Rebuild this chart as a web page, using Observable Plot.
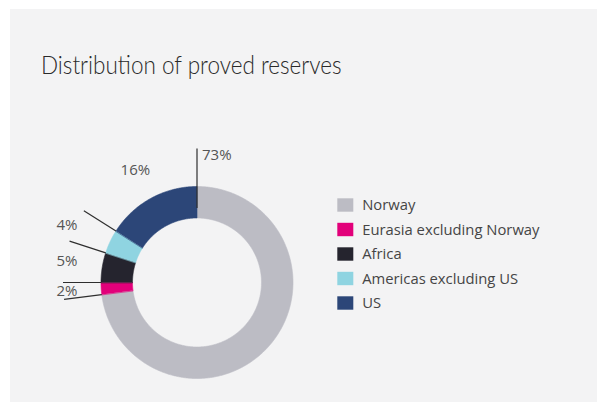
<!DOCTYPE html>
<html>
<head>
<meta charset="utf-8">
<script src="https://cdn.jsdelivr.net/npm/d3@7"></script>
<script src="https://cdn.jsdelivr.net/npm/@observablehq/plot@0.6"></script>
<style>
  html, body { margin: 0; padding: 0; background: #ffffff; }
  body { width: 597px; height: 412px; position: relative; overflow: hidden; font-family: Lato, "Open Sans", sans-serif; }
  #panel { position: absolute; left: 10px; top: 9px; width: 587px; height: 393px; background: #f3f3f4; }
  #title { position: absolute; left: 31px; top: 42px; margin: 0; font-size: 26px; line-height: 26px; font-weight: 300; color: #2a2a2a; white-space: nowrap; transform: scaleX(0.865); transform-origin: 0 0; }
  #chart { position: absolute; left: 0; top: 91px; }
</style>
</head>
<body>
<div id="panel">
  <h2 id="title">Distribution of proved reserves</h2>
  <div id="chart"></div>
</div>
<script>
// ---- data ----
const categories = ["Norway", "Eurasia excluding Norway", "Africa", "Americas excluding US", "US"];
const shares = [73, 2, 5, 4, 16];
const shareLabels = ["73%", "2%", "5%", "4%", "16%"];
const colors = ["#bcbcc4", "#e2007a", "#25242e", "#8fd4e1", "#2c4678"];

// ---- layout ----
const W = 587, H = 300;
const cx = 186.5, cy = 182;      // donut centre (svg coords)
const rOuter = 96, rInner = 64.5;
const rLine = 134, rLabelSide = 134, rLabelTop = 128;
const sideColumnX = cx - rLabelSide - 6.5;
const legendX = 327.3, legendY = 105, legendStep = 24.5, swW = 16, swH = 13.4;
const font = "'Open Sans', Lato, sans-serif";

const pie = d3.pie().sort(null).value(d => d)(shares);
const px = (r, a) => cx + r * Math.sin(a);
const py = (r, a) => cy - r * Math.cos(a);

// slice polygons (outer arc then inner arc back)
const sliceMarks = pie.map((s, i) => {
  const n = Math.max(4, Math.ceil((s.endAngle - s.startAngle) / (Math.PI / 360)));
  const pts = [];
  for (let k = 0; k <= n; k++) {
    const a = s.startAngle + (s.endAngle - s.startAngle) * k / n;
    pts.push({x: px(rOuter, a), y: py(rOuter, a)});
  }
  for (let k = n; k >= 0; k--) {
    const a = s.startAngle + (s.endAngle - s.startAngle) * k / n;
    pts.push({x: px(rInner, a), y: py(rInner, a)});
  }
  return Plot.line(pts, {x: "x", y: "y", fill: colors[i], stroke: colors[i], strokeWidth: 0.6, curve: "linear-closed"});
});

// leader lines at every slice boundary
const boundaries = pie.map(s => s.startAngle);
const links = boundaries.map((a, i) => ({
  x1: px(i === 0 ? rInner + 10 : rOuter, a), y1: py(i === 0 ? rInner + 10 : rOuter, a),
  x2: px(rLine, a), y2: py(rLine, a)
}));

// percent labels
const labelRows = pie.map((s, i) => {
  const share = s.endAngle - s.startAngle;
  if (share > Math.PI) {
    // large slice: label beside its starting boundary line
    return {x: px(rLabelTop - 1, s.startAngle) + 5, y: py(rLabelTop - 1, s.startAngle), text: shareLabels[i], anchor: "start"};
  }
  const m = (s.startAngle + s.endAngle) / 2;
  if (Math.abs(Math.sin(m)) > 0.8) {
    // labels beside the donut: left-aligned column
    return {x: sideColumnX, y: py(rLabelSide, m), text: shareLabels[i], anchor: "start"};
  }
  return {x: px(rLabelTop, m), y: py(rLabelTop, m), text: shareLabels[i], anchor: "middle"};
});

// legend rows
const legendRows = categories.map((c, i) => ({
  x1: legendX, x2: legendX + swW,
  y1: legendY + i * legendStep - swH / 2, y2: legendY + i * legendStep + swH / 2,
  ty: legendY + i * legendStep, name: c, color: colors[i]
}));

const chart = Plot.plot({
  width: W, height: H,
  margin: 0,
  x: {domain: [0, W], range: [0, W], axis: null},
  y: {domain: [0, H], range: [0, H], axis: null},
  style: {background: "transparent", fontFamily: font, overflow: "visible"},
  marks: [
    ...sliceMarks,
    Plot.link(links, {x1: "x1", y1: "y1", x2: "x2", y2: "y2", stroke: "#2e2e2e", strokeWidth: 1.2}),
    Plot.text(labelRows.filter(d => d.anchor === "middle"), {x: "x", y: "y", text: "text", fontSize: 15, fill: "#555", textAnchor: "middle"}),
    Plot.text(labelRows.filter(d => d.anchor === "start"), {x: "x", y: "y", text: "text", fontSize: 15, fill: "#555", textAnchor: "start"}),
    Plot.rect(legendRows, {x1: "x1", x2: "x2", y1: "y1", y2: "y2", fill: "color"}),
    Plot.text(legendRows, {x: d => d.x2 + 8.4, y: "ty", text: "name", fontSize: 14.8, fill: "#454545", textAnchor: "start"})
  ]
});
document.getElementById("chart").appendChild(chart);
</script>
</body>
</html>
